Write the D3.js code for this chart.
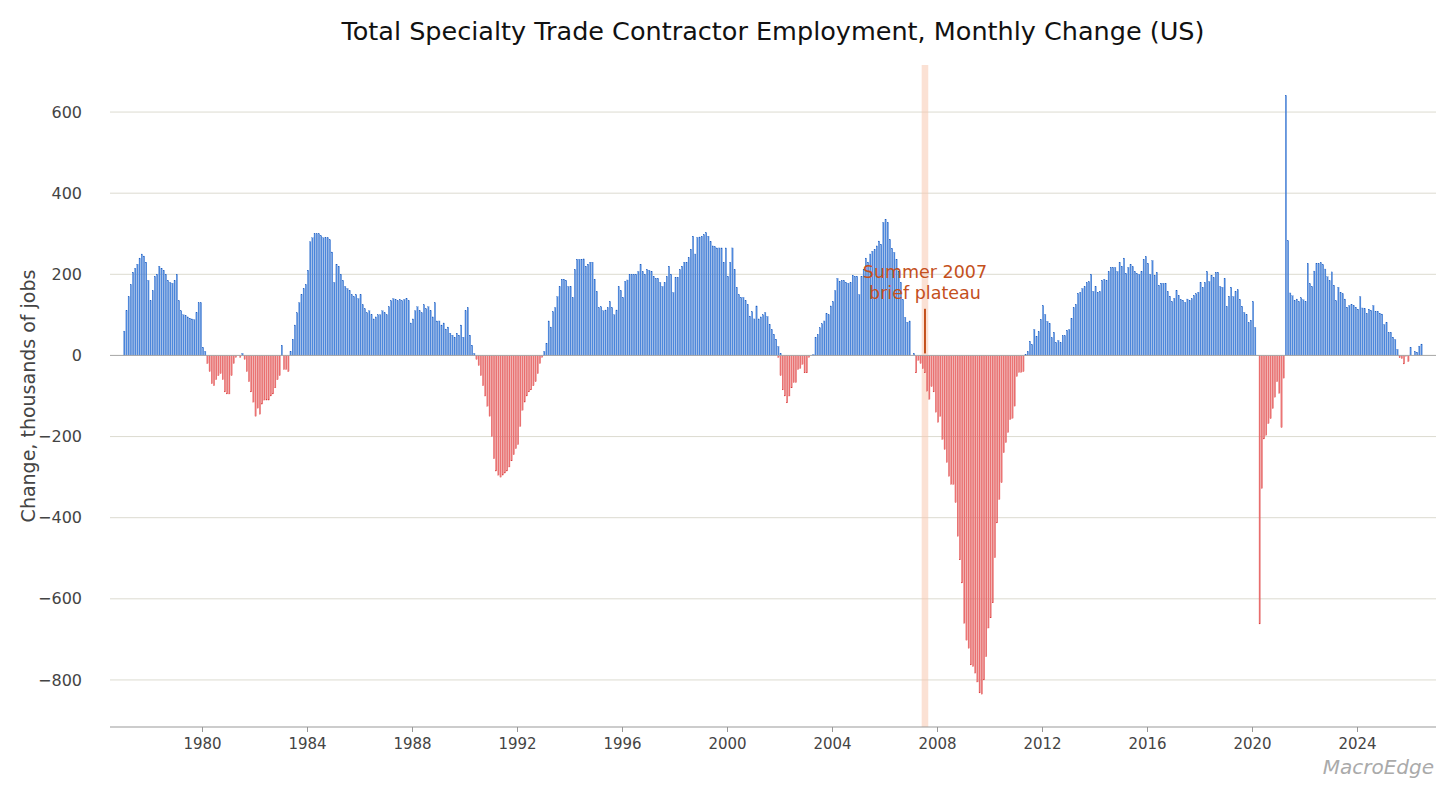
<!DOCTYPE html>
<html>
<head>
<meta charset="utf-8">
<script src="https://cdn.jsdelivr.net/npm/d3@7"></script>
<style>
  body { margin: 0; background: #fff; }
  text { font-family: "DejaVu Sans", sans-serif; }
</style>
</head>
<body>
<script>
// monthly year-over-year change, thousands of jobs
// each segment: [start year, start month (1-12), values...]
var seg1977 = [1977, 1,
  60,110,145,175,205,215,225,240,250,245,230,185,
  135,160,195,200,220,215,210,200,185,180,178,185,
  200,135,110,100,98,95,92,90,88,105,130,130,
  20,10,-20,-40,-70,-75,-60,-50,-45,-60,-90,-95,
  -95,-50,-20,-5,0,-5,5,-10,-40,-65,-90,-115,
  -150,-130,-145,-120,-110,-110,-110,-100,-95,-80,-60,-50,
  25,-35,-35,-40,10,40,75,105,130,150,165,175,
  210,280,290,300,300,300,295,290,290,290,285,255,
  180,225,220,200,185,170,165,160,150,145,150,140,
  150,125,115,105,110,100,90,95,100,100,110,105,
  100,120,135,140,138,135,138,135,138,140,135,80,
  90,110,120,110,105,125,115,120,110,95,130,85,
  85,75,80,65,70,55,50,45,55,50,75,45,
  110,118,50,25,5,-10,-25,-50,-75,-100,-125,-150,
  -200,-255,-285,-295,-300,-295,-290,-285,-275,-260,-245,-230,
  -220,-175,-135,-115,-100,-90,-85,-75,-65,-45,-20,-5,
  10,30,85];
var seg1993 = [1993, 4,
  70,108,118,145,170,188,188,185,170,170,143,212,237,237,237,238,220,225,230,230,
  188,158,118,120,110,112,118,133,118,100,112,170,160,143,183,186,200,200,200,200,
  207,225,207,200,212,210,207,195,190,190,180,170,180,195,220,200,155,193,193,212,
  220,230,230,242,262,294,250,291,292,294,298,303,294,281,270,268,265,265,265,230,
  265,195,230,265,212,168,150,143,143,135,126,97,108,90,122,90,95,100,106,96,
  77,64,52,40,22,5];
var seg2002 = [2001, 12,
  -5,-50,-85,-100,-117,-100,-80,-67,-67,-35,-32,-22,-43,-43,-5,0];
var seg2003 = [2003, 4,
  2,45,52,68,78,85,103,100,122,133,160,190,183,185,185,180,178,180,198,195,
  195,150,195,212,240,230,250,257,262,270,282,274,328,336,328,286,264,254,237,208,
  180,138,94,82,85];
var seg2007 = [2007, 2,
  5,-43,-12,-20,-33,-43,-88,-108,-77,-90,-140,-165,-150,-207,-232,-264,-298,-318,-318,-363,
  -446,-504,-561,-660,-702,-722,-763,-767,-783,-805,-832,-835,-800,-743,-672,-647,-610,-499,-413,-355,
  -314,-240,-215,-190,-158,-155,-125,-52,-42,-42,-40];
var seg2011 = [2011, 5,
  3,10,35,27,64,47,59,89,123,101,84,79,44,57,32,37,32,49,49,62,
  64,91,118,126,153,156,165,170,180,182,200,158,170,156,158,185,188,185,207,217,
  217,217,207,230,220,240,202,217,225,219,207,202,200,207,237,244,227,200,234,198,
  205,173,178,178,178,158,146,133,141,160,148,138,136,131,139,136,140,148,152,156,
  180,168,180,207,182,198,192,205,205,170,168,190,121,146,168,145,158,162,138,121,
  106,100,81,87,133,69];
var seg2020 = [2020, 4,
  -662,-328,-206,-197,-168,-156,-131,-103,-65,-93,-178,-56,
  641,283,154,147,136,139,133,142,137,133,227,177,170,208,227,227,229,224,213,194,
  184,206,173,135,168,156,152,139,119,123,126,123,119,114,145,117,116,104,114,111,
  123,109,109,104,102,76,81,57,57,45,39,15,-6,-8,-21,-2,-15,20,0,10,8,23,28];

var segments = [seg1977, seg1993, seg2002, seg2003, seg2007, seg2011, seg2020];
var yTicks = [-800, -600, -400, -200, 0, 200, 400, 600];
var xTicks = [1980,1984,1988,1992,1996,2000,2004,2008,2012,2016,2020,2024];
var shade = [2007 + 5/12, 2007 + 8/12];   // summer 2007 band
var noteAt = [2007 + 6.5/12, 115];

var data = [];
segments.forEach(function(s){
  var y0 = s[0], m0 = s[1] - 1;
  s.slice(2).forEach(function(v, i){
    var k = m0 + i;
    data.push({t: y0 + Math.floor(k / 12) + (k % 12) / 12, v: v});
  });
});

var width = 1456, height = 794;
var svg = d3.select('body').append('svg').attr('width', width).attr('height', height);

var x = d3.scaleLinear().domain([1980, 2024]).range([202, 1357]);
var left = 110, right = 1436;
var y = d3.scaleLinear().domain([-916, 716]).range([727, 65]);

// grid
svg.append('g').selectAll('line').data(yTicks).enter().append('line')
  .attr('x1', left).attr('x2', right)
  .attr('y1', function(d){ return y(d); }).attr('y2', function(d){ return y(d); })
  .attr('stroke', '#dcdbd0').attr('stroke-width', 1);

// shaded band
svg.append('rect')
  .attr('x', x(shade[0])).attr('width', x(shade[1]) - x(shade[0]))
  .attr('y', y(716)).attr('height', y(-916) - y(716))
  .attr('fill', '#f8c8b0').attr('opacity', 0.55);

// bars
var bw = 1.3;
svg.append('g').selectAll('rect').data(data).enter().append('rect')
  .attr('x', function(d){ return x(d.t + 1/24) - bw / 2; })
  .attr('width', bw)
  .attr('y', function(d){ return y(Math.max(0, d.v)); })
  .attr('height', function(d){ return Math.abs(y(d.v) - y(0)); })
  .attr('fill', function(d){ return d.v >= 0 ? '#4f8ade' : '#ec7676'; })
  .attr('stroke', function(d){ return d.v >= 0 ? '#1f5ec0' : '#d83a3a'; })
  .attr('stroke-width', 0.25);

// zero line
svg.append('line').attr('x1', left).attr('x2', right)
  .attr('y1', y(0)).attr('y2', y(0)).attr('stroke', '#aaaaaa').attr('stroke-width', 1);

// bottom axis
var xa = svg.append('g').attr('transform', 'translate(0,' + y(-916) + ')')
  .call(d3.axisBottom(x).tickValues(xTicks).tickFormat(d3.format('d')).tickSize(5).tickPadding(6));
xa.select('.domain').attr('d', 'M' + left + ',0H' + right).attr('stroke', '#999');
xa.selectAll('.tick line').attr('stroke', '#999');
xa.selectAll('text').attr('font-size', 15).attr('fill', '#444').attr('font-family', '"DejaVu Sans", sans-serif');

// left axis labels
var ya = svg.append('g').attr('transform', 'translate(' + left + ',0)')
  .call(d3.axisLeft(y).tickValues(yTicks).tickFormat(d3.format('d')).tickSize(0).tickPadding(28));
ya.select('.domain').remove();
ya.selectAll('text').attr('font-size', 16).attr('fill', '#444').attr('font-family', '"DejaVu Sans", sans-serif')
  .text(function(d){ return d < 0 ? '\u2212' + Math.abs(d) : d; });

svg.append('text').attr('transform', 'translate(35,' + y(-100) + ') rotate(-90)')
  .attr('text-anchor', 'middle').attr('font-size', 19).attr('fill', '#444')
  .text('Change, thousands of jobs');

// annotation
svg.append('line').attr('x1', x(noteAt[0])).attr('x2', x(noteAt[0]))
  .attr('y1', y(noteAt[1])).attr('y2', y(5)).attr('stroke', '#c4501c').attr('stroke-width', 2);
var note = svg.append('text').attr('text-anchor', 'middle').attr('font-size', 17.5).attr('fill', '#c4501c');
note.append('tspan').attr('x', x(noteAt[0])).attr('y', 278).text('Summer 2007');
note.append('tspan').attr('x', x(noteAt[0])).attr('y', 299).text('brief plateau');

// title and watermark
svg.append('text').attr('x', 773).attr('y', 40).attr('text-anchor', 'middle')
  .attr('font-size', 25.5).attr('fill', '#111')
  .text('Total Specialty Trade Contractor Employment, Monthly Change (US)');
svg.append('text').attr('x', 1434).attr('y', 774).attr('text-anchor', 'end')
  .attr('font-size', 20).attr('font-style', 'italic').attr('fill', '#aaaaaa')
  .text('MacroEdge');
</script>
</body>
</html>
